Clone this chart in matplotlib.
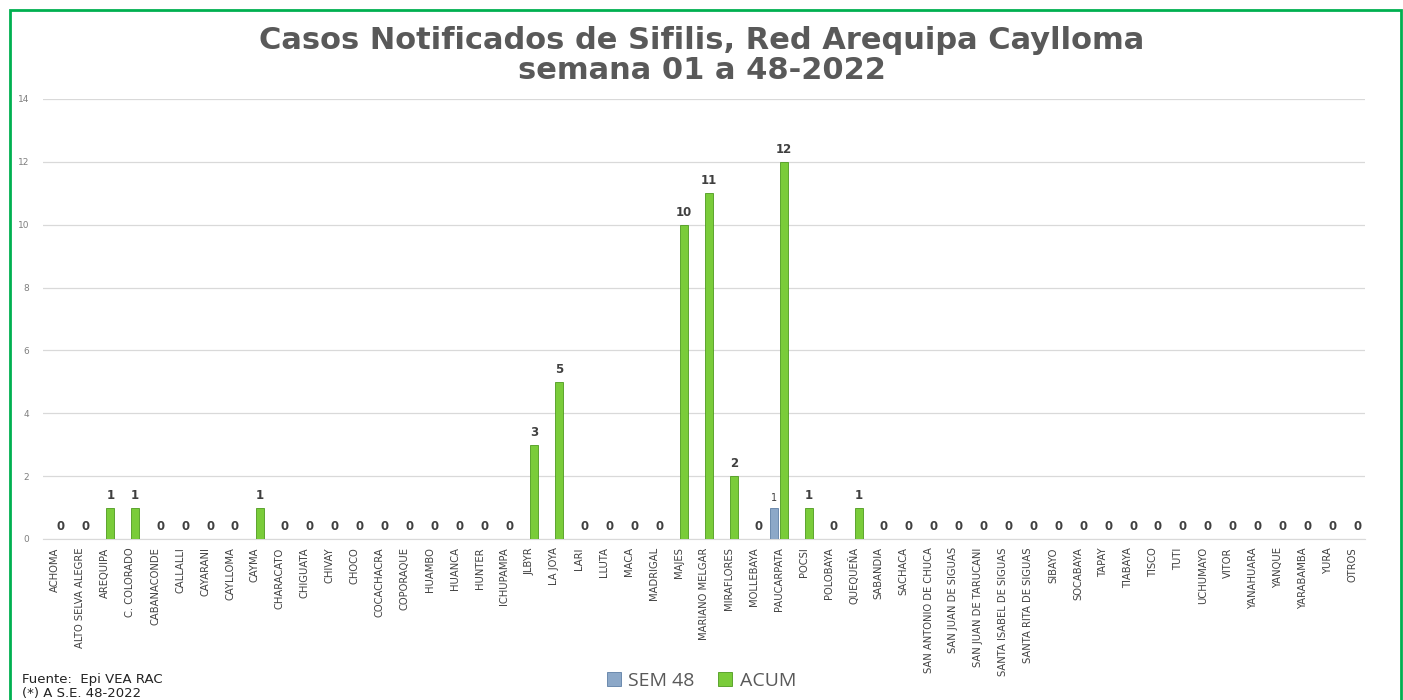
import matplotlib.pyplot as plt
from matplotlib.patches import Rectangle

distritos = ["ACHOMA", "ALTO SELVA ALEGRE", "AREQUIPA", "C. COLORADO", "CABANACONDE",
             "CALLALLI", "CAYARANI", "CAYLLOMA", "CAYMA", "CHARACATO", "CHIGUATA",
             "CHIVAY", "CHOCO", "COCACHACRA", "COPORAQUE", "HUAMBO", "HUANCA", "HUNTER",
             "ICHUPAMPA", "JLBYR", "LA JOYA", "LARI", "LLUTA", "MACA", "MADRIGAL", "MAJES",
             "MARIANO MELGAR", "MIRAFLORES", "MOLLEBAYA", "PAUCARPATA", "POCSI", "POLOBAYA",
             "QUEQUEÑA", "SABANDIA", "SACHACA", "SAN ANTONIO DE CHUCA", "SAN JUAN DE SIGUAS",
             "SAN JUAN DE TARUCANI", "SANTA ISABEL DE SIGUAS", "SANTA RITA DE SIGUAS",
             "SIBAYO", "SOCABAYA", "TAPAY", "TIABAYA", "TISCO", "TUTI", "UCHUMAYO", "VITOR",
             "YANAHUARA", "YANQUE", "YARABAMBA", "YURA", "OTROS"]

sem48 = [0] * len(distritos)
sem48[distritos.index("PAUCARPATA")] = 1

acum = [0, 0, 1, 1, 0, 0, 0, 0, 1, 0, 0, 0, 0, 0, 0, 0, 0, 0, 0, 3, 5, 0, 0, 0, 0, 10,
        11, 2, 0, 12, 1, 0, 1, 0, 0, 0, 0, 0, 0, 0, 0, 0, 0, 0, 0, 0, 0, 0, 0, 0, 0, 0, 0]

verde = "#7ACC3A"
azul = "#8CA8C8"
gris = "#595959"

fig = plt.figure(figsize=(14.03, 7), dpi=100)
ax = fig.add_axes([0.0306, 0.23, 0.9424, 0.6286])

x = list(range(len(distritos)))
off = 0.2
ancho = 0.32
ax.bar([i - off for i in x], sem48, width=ancho, color=azul, edgecolor="#5E7FA6", linewidth=0.6,
       label="SEM 48", zorder=3)
ax.bar([i + off for i in x], acum, width=ancho, color=verde, edgecolor="#4E9A1E", linewidth=0.6,
       label="ACUM", zorder=3)

# etiquetas de valores
for i in x:
    ax.annotate(str(acum[i]), (i + off, acum[i]), xytext=(0, 9), textcoords="offset points",
                ha="center", va="center", fontsize=8.5, fontweight="bold", color="#404040")
    if sem48[i] > 0:
        ax.annotate(str(sem48[i]), (i - off, sem48[i]), xytext=(0, 7), textcoords="offset points",
                    ha="center", va="center", fontsize=7, color="#404040")

ax.set_xlim(-0.5, len(distritos) - 0.5)
ax.set_ylim(0, 14)
ax.set_yticks(range(0, 15, 2))
ax.tick_params(axis="y", length=0, labelsize=6.5, labelcolor="#7F7F7F", pad=10)
ax.set_xticks(x)
ax.set_xticklabels(distritos, rotation=90, fontsize=7.2, color="#404040",
                   family=["Liberation Sans Narrow", "DejaVu Sans"])
ax.tick_params(axis="x", length=0, pad=6)
ax.grid(axis="y", color="#D9D9D9", linewidth=0.9, zorder=0)
for s in ["top", "right", "left"]:
    ax.spines[s].set_visible(False)
ax.spines["bottom"].set_color("#D9D9D9")

fig.text(0.5, 0.921, "Casos Notificados de Sifilis, Red Arequipa Caylloma\nsemana 01 a 48-2022",
         ha="center", va="center", fontsize=22, fontweight="bold", color=gris,
         family="DejaVu Sans", linespacing=1.05)

leg = fig.legend(loc="center", bbox_to_anchor=(0.5, 0.027), ncol=2, frameon=False,
                 handlelength=0.7, handleheight=0.7, columnspacing=1.2,
                 handletextpad=0.4, prop={"family": "Open Sans", "size": 14})
for t in leg.get_texts():
    t.set_color(gris)

fig.text(0.0157, 0.029, "Fuente:  Epi VEA RAC", fontsize=9.5, color="#222222",
         family="DejaVu Sans", va="center")
fig.text(0.0157, 0.009, "(*) A S.E. 48-2022", fontsize=9.5, color="#222222",
         family="DejaVu Sans", va="center")

# marco verde
fig.patches.append(Rectangle((0.0071, -0.01), 0.9915, 0.996, transform=fig.transFigure,
                             fill=False, edgecolor="#00B050", linewidth=2))

fig.savefig("out.png", dpi=100)
